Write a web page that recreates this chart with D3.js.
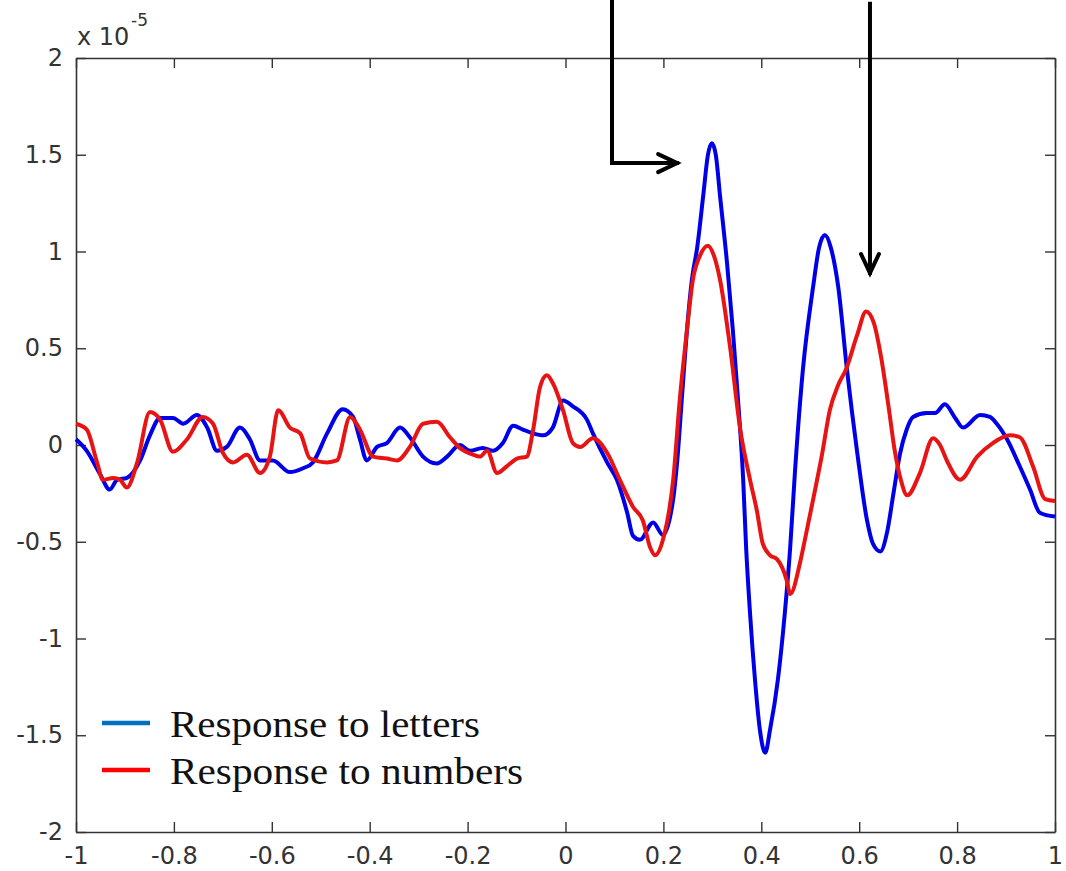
<!DOCTYPE html>
<html>
<head>
<meta charset="utf-8">
<script src="https://cdn.jsdelivr.net/npm/d3@7"></script>
<style>
  body { margin: 0; background: #fff; }
  svg { display: block; }
  .tick text { font-family: "DejaVu Sans", sans-serif; font-size: 24px; fill: #333; }
</style>
</head>
<body>
<svg id="chart" width="1066" height="871"></svg>
<script>
// chart values (x in seconds, y in units of 1e-5)
var lettersT = [-1.000,-0.978,-0.951,-0.931,-0.916,-0.896,-0.869,-0.849,-0.828,-0.802,-0.781,-0.753,-0.732,-0.712,-0.692,-0.665,-0.645,-0.624,-0.598,-0.563,-0.536,-0.516,-0.487,-0.455,-0.434,-0.420,-0.406,-0.385,-0.365,-0.338,-0.318,-0.291,-0.263,-0.242,-0.216,-0.195,-0.169,-0.148,-0.128,-0.107,-0.087,-0.066,-0.046,-0.026,-0.005,0.015,0.044,0.056,0.085,0.105,0.126,0.138,0.152,0.179,0.199,0.220,0.228,0.238,0.248,0.258,0.269,0.281,0.291,0.299,0.307,0.316,0.330,0.342,0.352,0.363,0.369,0.377,0.387,0.397,0.408,0.418,0.434,0.448,0.459,0.469,0.485,0.506,0.518,0.530,0.542,0.557,0.575,0.596,0.616,0.628,0.643,0.657,0.670,0.683,0.697,0.710,0.738,0.755,0.775,0.796,0.812,0.847,0.867,0.881,0.902,0.928,0.949,0.969,1.000];
var lettersV = [0.03,-0.03,-0.15,-0.23,-0.18,-0.17,-0.08,0.05,0.14,0.14,0.11,0.155,0.09,-0.03,-0.01,0.09,0.03,-0.08,-0.08,-0.14,-0.12,-0.09,0.06,0.185,0.145,0.03,-0.08,-0.01,0.01,0.09,0.04,-0.06,-0.095,-0.06,0,-0.03,-0.015,-0.03,0.01,0.10,0.08,0.06,0.05,0.09,0.23,0.20,0.13,0.06,-0.09,-0.18,-0.35,-0.47,-0.49,-0.40,-0.465,-0.28,-0.09,0.25,0.59,0.85,1.02,1.28,1.50,1.56,1.50,1.28,0.94,0.59,0.25,-0.18,-0.53,-0.87,-1.21,-1.47,-1.59,-1.47,-1.21,-0.87,-0.53,-0.13,0.39,0.82,1.02,1.085,1.02,0.82,0.39,-0.04,-0.39,-0.51,-0.55,-0.45,-0.25,-0.05,0.08,0.145,0.165,0.165,0.21,0.14,0.09,0.155,0.145,0.11,0.03,-0.11,-0.23,-0.35,-0.37];

var numbersT = [-1.000,-0.978,-0.957,-0.945,-0.924,-0.910,-0.896,-0.875,-0.849,-0.828,-0.802,-0.773,-0.741,-0.720,-0.700,-0.679,-0.651,-0.624,-0.604,-0.587,-0.563,-0.542,-0.522,-0.487,-0.467,-0.440,-0.420,-0.393,-0.365,-0.344,-0.318,-0.291,-0.263,-0.236,-0.216,-0.189,-0.175,-0.160,-0.140,-0.120,-0.099,-0.079,-0.066,-0.052,-0.038,-0.026,-0.005,0.015,0.030,0.056,0.085,0.111,0.138,0.158,0.173,0.183,0.199,0.220,0.234,0.248,0.260,0.275,0.291,0.303,0.316,0.336,0.357,0.377,0.391,0.403,0.418,0.432,0.452,0.459,0.479,0.489,0.506,0.524,0.540,0.557,0.573,0.596,0.614,0.630,0.645,0.661,0.672,0.685,0.698,0.724,0.751,0.765,0.779,0.806,0.841,0.873,0.908,0.928,0.955,0.980,1.000];
var numbersV = [0.11,0.08,-0.09,-0.18,-0.17,-0.18,-0.22,-0.09,0.17,0.13,-0.035,0.03,0.145,0.11,-0.04,-0.09,-0.05,-0.145,-0.06,0.18,0.09,0.06,-0.07,-0.09,-0.08,0.145,0.08,-0.06,-0.07,-0.08,-0.01,0.11,0.12,0.04,-0.015,-0.05,-0.06,-0.03,-0.145,-0.11,-0.07,-0.06,0.08,0.30,0.36,0.32,0.18,0.01,-0.01,0.035,-0.04,-0.18,-0.32,-0.39,-0.53,-0.57,-0.49,-0.18,0.25,0.59,0.85,0.98,1.03,0.98,0.85,0.51,0.08,-0.18,-0.34,-0.51,-0.57,-0.59,-0.70,-0.77,-0.61,-0.49,-0.28,-0.05,0.18,0.31,0.39,0.57,0.69,0.63,0.45,0.18,-0.02,-0.18,-0.26,-0.145,0.035,0.0,-0.08,-0.18,-0.06,0.01,0.05,0.04,-0.11,-0.28,-0.29];

var xTicks = [-1,-0.8,-0.6,-0.4,-0.2,0,0.2,0.4,0.6,0.8,1];
var yTicks = [-2,-1.5,-1,-0.5,0,0.5,1,1.5,2];

var legendLabels = ["Response to letters", "Response to numbers"];
var legendColors = ["#0070c0", "#ff0000"];
var lineColors = ["#0000e8", "#e81414"];

// annotation arrows, in data units: [x, yTop, xTip, yTip]
var arrowBent = [0.095, 2.30, 0.228, 1.457];
var arrowDown = [0.622, 2.28, 0.622, 0.889];

var svg = d3.select("#chart");
var padL = 76, padR = 1055, padT = 58, padB = 832;

var x = d3.scaleLinear().domain([-1, 1]).range([padL, padR]);
var y = d3.scaleLinear().domain([-2, 2]).range([padB, padT]);

// plain hyphen minus like matlab does
function fmt(d) { return String(+d.toFixed(1)); }

// axes, ticks point inward like matlab
svg.append("g")
  .attr("transform", "translate(0," + padB + ")")
  .call(d3.axisBottom(x).tickValues(xTicks).tickSizeInner(-10).tickSizeOuter(0).tickPadding(15).tickFormat(fmt));
svg.append("g")
  .attr("transform", "translate(0," + padT + ")")
  .call(d3.axisTop(x).tickValues(xTicks).tickSizeInner(-10).tickSizeOuter(0).tickFormat(""));
svg.append("g")
  .attr("transform", "translate(" + padL + ",0)")
  .call(d3.axisLeft(y).tickValues(yTicks).tickSizeInner(-10).tickSizeOuter(0).tickPadding(13).tickFormat(fmt));
svg.append("g")
  .attr("transform", "translate(" + padR + ",0)")
  .call(d3.axisRight(y).tickValues(yTicks).tickSizeInner(-10).tickSizeOuter(0).tickFormat(""));

svg.selectAll(".domain").attr("stroke", "#333").attr("stroke-width", 1.6);
svg.selectAll(".tick line").attr("stroke", "#333").attr("stroke-width", 1.4);

// exponent label
svg.append("text")
  .attr("x", 77).attr("y", 45)
  .style("font-family", "DejaVu Sans, sans-serif").style("font-size", "24px").style("fill", "#333")
  .text("x 10");
svg.append("text")
  .attr("x", 131).attr("y", 26)
  .style("font-family", "DejaVu Sans, sans-serif").style("font-size", "17px").style("fill", "#333")
  .text("-5");

// the two responses
var line = d3.line()
  .x(function(d) { return x(d[0]); })
  .y(function(d) { return y(d[1]); })
  .curve(d3.curveMonotoneX);

var series = [d3.zip(lettersT, lettersV), d3.zip(numbersT, numbersV)];

svg.append("g").selectAll("path")
  .data(series)
  .enter().append("path")
  .attr("d", line)
  .attr("fill", "none")
  .attr("stroke", function(d, i) { return lineColors[i]; })
  .attr("stroke-width", 4)
  .attr("stroke-linejoin", "round");

// arrows
var ag = svg.append("g").attr("stroke", "#000").attr("stroke-width", 4).attr("fill", "none")
  .attr("stroke-linecap", "square");
ag.append("path").attr("d",
  "M" + x(arrowBent[0]) + "," + y(arrowBent[1]) +
  "V" + y(arrowBent[3]) + "H" + x(arrowBent[2]));
ag.append("path").attr("stroke-linecap", "round").attr("d",
  "M" + (x(arrowBent[2]) - 19) + "," + (y(arrowBent[3]) - 9) +
  "L" + x(arrowBent[2]) + "," + y(arrowBent[3]) +
  "L" + (x(arrowBent[2]) - 19) + "," + (y(arrowBent[3]) + 9));
ag.append("path").attr("d",
  "M" + x(arrowDown[0]) + "," + y(arrowDown[1]) + "V" + y(arrowDown[3]));
ag.append("path").attr("stroke-linecap", "round").attr("d",
  "M" + (x(arrowDown[2]) - 9) + "," + (y(arrowDown[3]) - 19) +
  "L" + x(arrowDown[2]) + "," + y(arrowDown[3]) +
  "L" + (x(arrowDown[2]) + 9) + "," + (y(arrowDown[3]) - 19));

// legend
var legendWidths = [310, 353];
var lg = svg.append("g").selectAll("g")
  .data(legendLabels)
  .enter().append("g")
  .attr("transform", function(d, i) { return "translate(102," + (723 + i * 47) + ")"; });
lg.append("line")
  .attr("x1", 0).attr("x2", 48).attr("y1", 0).attr("y2", 0)
  .attr("stroke", function(d, i) { return legendColors[i]; })
  .attr("stroke-width", 4.5);
lg.append("text")
  .attr("x", 68).attr("y", 14)
  .attr("textLength", function(d, i) { return legendWidths[i]; })
  .attr("lengthAdjust", "spacingAndGlyphs")
  .style("font-family", "Liberation Serif, serif").style("font-size", "37px").style("fill", "#111")
  .text(function(d) { return d; });
</script>
</body>
</html>
